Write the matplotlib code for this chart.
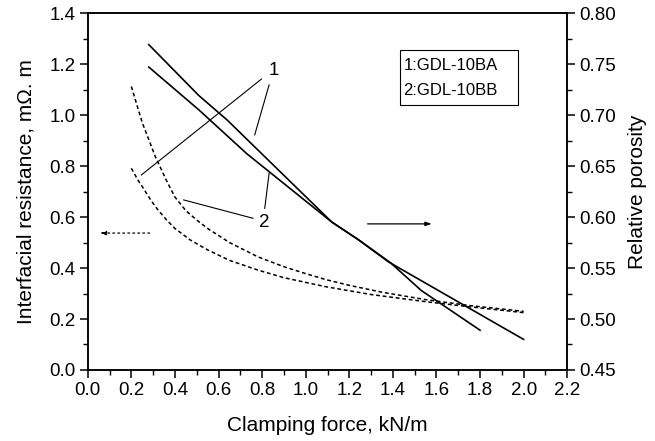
import matplotlib
matplotlib.use('Agg')
import matplotlib.pyplot as plt
from matplotlib.ticker import MultipleLocator
from matplotlib.patches import Rectangle

plt.rcParams['font.family'] = ['Liberation Sans', 'DejaVu Sans']

# 曲线数据
# 相对孔隙率 (右轴, 实线)
force_por_1 = [0.28, 0.51, 0.64, 1.12, 1.24, 1.39, 1.53, 1.80]
porosity_1 = [0.769, 0.719, 0.695, 0.595, 0.578, 0.555, 0.528, 0.489]
force_por_2 = [0.28, 0.51, 0.73, 1.12, 1.24, 1.38, 1.91, 2.00]
porosity_2 = [0.747, 0.705, 0.662, 0.595, 0.578, 0.556, 0.491, 0.480]

# 界面电阻 (左轴, 虚线)
force_res_1 = [0.20, 0.23, 0.26, 0.29, 0.32, 0.36, 0.40, 0.47, 0.55, 0.65,
               0.78, 0.90, 1.09, 1.30, 1.55, 1.75, 2.00]
resist_1 = [0.791, 0.745, 0.706, 0.665, 0.630, 0.590, 0.555, 0.510, 0.471, 0.430,
            0.392, 0.362, 0.327, 0.296, 0.268, 0.248, 0.225]
force_res_2 = [0.20, 0.25, 0.31, 0.36, 0.40, 0.45, 0.50, 0.55, 0.65, 0.78,
               0.90, 1.00, 1.09, 1.20, 1.35, 1.55, 1.75, 2.00]
resist_2 = [1.112, 0.970, 0.837, 0.745, 0.678, 0.625, 0.588, 0.555, 0.500, 0.444,
            0.405, 0.378, 0.355, 0.332, 0.305, 0.276, 0.253, 0.230]

legend_lines = ['1:GDL-10BA', '2:GDL-10BB']

fig = plt.figure(figsize=(6.55, 4.41), dpi=100)
ax = fig.add_axes([0.134, 0.161, 0.732, 0.8095])
ax2 = ax.twinx()

ax.plot(force_res_1, resist_1, color='black', lw=1.1, ls=(0, (2.5, 1.8)))
ax.plot(force_res_2, resist_2, color='black', lw=1.1, ls=(0, (2.5, 1.8)))
ax2.plot(force_por_1, porosity_1, color='black', lw=1.2)
ax2.plot(force_por_2, porosity_2, color='black', lw=1.2)

ax.set_xlim(0, 2.2)
ax.set_ylim(0, 1.4)
ax2.set_ylim(0.45, 0.80)

ax.xaxis.set_major_locator(MultipleLocator(0.2))
ax.xaxis.set_minor_locator(MultipleLocator(0.1))
ax.yaxis.set_major_locator(MultipleLocator(0.2))
ax.yaxis.set_minor_locator(MultipleLocator(0.1))
ax2.yaxis.set_major_locator(MultipleLocator(0.05))
ax2.yaxis.set_minor_locator(MultipleLocator(0.025))
ax.xaxis.set_major_formatter(plt.FormatStrFormatter('%.1f'))
ax.yaxis.set_major_formatter(plt.FormatStrFormatter('%.1f'))
ax2.yaxis.set_major_formatter(plt.FormatStrFormatter('%.2f'))

for a in (ax, ax2):
    a.tick_params(which='major', direction='out', length=6, width=1.1, labelsize=13.5, pad=3)
    a.tick_params(which='minor', direction='out', length=3.5, width=1.0)
    for s in a.spines.values():
        s.set_linewidth(1.1)
ax.tick_params(top=False, right=False)
ax.tick_params(which='minor', top=False, right=False)

ax.set_xlabel('Clamping force, kN/m', fontsize=15, labelpad=12)
ax.set_ylabel('Interfacial resistance, m\u03a9. m', fontsize=15, labelpad=10)
ax2.set_ylabel('Relative porosity', fontsize=15, labelpad=8)

# 图例框
ax.add_patch(Rectangle((0.651, 0.742), 0.247, 0.154, transform=ax.transAxes,
                       fill=False, lw=0.8, edgecolor='black'))
ax.text(0.658, 0.854, legend_lines[0], transform=ax.transAxes, fontsize=12, va='center')
ax.text(0.658, 0.784, legend_lines[1], transform=ax.transAxes, fontsize=12, va='center')

# 标注 1 / 2
ax.text(0.855, 1.176, '1', fontsize=13.5, ha='center', va='center')
ax.plot([0.797, 0.246], [1.141, 0.765], color='black', lw=0.8)
ax.plot([0.832, 0.766], [1.118, 0.922], color='black', lw=0.8)
ax.text(0.812, 0.578, '2', fontsize=13.5, ha='center', va='center')
ax.plot([0.758, 0.440], [0.595, 0.667], color='black', lw=0.8)
ax.plot([0.812, 0.832], [0.634, 0.771], color='black', lw=0.8)

# 坐标轴指示箭头
ax.annotate('', xy=(0.055, 0.537), xytext=(0.284, 0.537),
            arrowprops=dict(arrowstyle='-|>,head_length=0.35,head_width=0.12',
                            color='black', lw=0.9, ls=(0, (1.5, 2.5)),
                            shrinkA=0, shrinkB=0))
ax.annotate('', xy=(1.578, 0.573), xytext=(1.284, 0.573),
            arrowprops=dict(arrowstyle='-|>,head_length=0.35,head_width=0.12',
                            color='black', lw=0.9, shrinkA=0, shrinkB=0))

fig.savefig('out.png', dpi=100)
